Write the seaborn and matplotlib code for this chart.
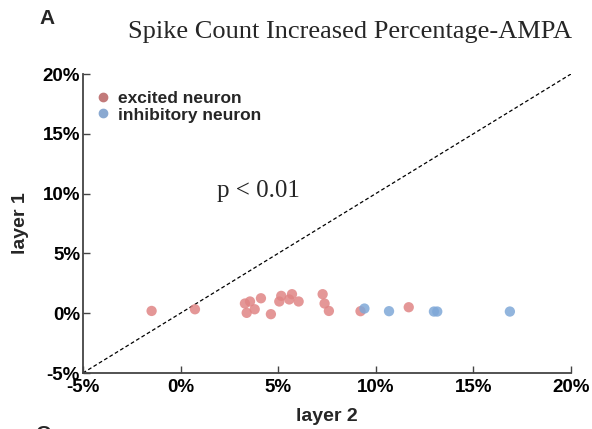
import numpy as np
import pandas as pd
import matplotlib
matplotlib.use("Agg")
import matplotlib.pyplot as plt
import seaborn as sns
from matplotlib.lines import Line2D

# data (percent)
excited_l2 = [-1.48, 0.74, 3.30, 3.56, 3.39, 3.80, 4.12, 4.63, 5.06, 5.16, 5.57, 5.71, 6.05, 7.28, 7.38, 7.60, 9.22, 11.69]
excited_l1 = [0.19, 0.33, 0.81, 0.98, 0.03, 0.33, 1.25, -0.08, 0.98, 1.45, 1.15, 1.59, 0.98, 1.59, 0.81, 0.19, 0.17, 0.50]
inhib_l2 = [9.42, 10.68, 12.98, 13.15, 16.87]
inhib_l1 = [0.39, 0.17, 0.14, 0.14, 0.14]
ticks = [-5, 0, 5, 10, 15, 20]
tick_labels = ["-5%", "0%", "5%", "10%", "15%", "20%"]
groups = ["excited neuron", "inhibitory neuron"]

df = pd.DataFrame({
    "layer 2": excited_l2 + inhib_l2,
    "layer 1": excited_l1 + inhib_l1,
    "type": [groups[0]] * len(excited_l2) + [groups[1]] * len(inhib_l2),
})

sns.set_theme(style="white")
plt.rcParams["font.family"] = ["Liberation Sans", "DejaVu Sans"]

fig = plt.figure(figsize=(5.92, 4.29), dpi=100)
ax = fig.add_axes([0.140, 0.1305, 0.8245, 0.697])

palette = {groups[0]: "#e08585", groups[1]: "#7fa8d8"}
sns.scatterplot(data=df, x="layer 2", y="layer 1", hue="type", palette=palette,
                s=55, alpha=0.85, edgecolor="none", ax=ax, legend=False, zorder=3)

ax.plot(ticks, ticks, linestyle=(0, (3, 2)), color="black", lw=0.9, zorder=2)

ax.set_xlim(-5, 20)
ax.set_ylim(-5, 20)
ax.set_xticks(ticks)
ax.set_yticks(ticks)
ax.set_xticklabels(tick_labels, fontsize=13.5, fontweight="bold")
ax.set_yticklabels(tick_labels, fontsize=13.5, fontweight="bold")
ax.tick_params(axis="x", direction="in", length=5, width=1, pad=4,
               bottom=True, labelcolor="black", color="#444444")
ax.tick_params(axis="y", direction="in", length=5, width=1, pad=2,
               left=True, labelcolor="black", color="#444444")
for side in ["top", "right"]:
    ax.spines[side].set_visible(False)
for side in ["left", "bottom"]:
    ax.spines[side].set_color("#444444")
    ax.spines[side].set_linewidth(1.3)

ax.set_xlabel("layer 2", fontsize=14, fontweight="bold", labelpad=9)
ax.set_ylabel("layer 1", fontsize=14, fontweight="bold", labelpad=10)

# legend
handles = [Line2D([], [], marker="o", ls="", color="#c27a7a", markersize=6),
           Line2D([], [], marker="o", ls="", color="#8aa9d1", markersize=6)]
leg = ax.legend(handles, groups, loc="upper left", frameon=False,
                prop={"weight": "bold", "size": 12.5}, handletextpad=0.1,
                handlelength=1.5, labelspacing=0.1, borderaxespad=0.0,
                bbox_to_anchor=(0.0, 0.968))

ax.text(3.97, 10.2, "p < 0.01", fontsize=18, family="Liberation Serif",
        ha="center", va="center")

fig.text(350 / 592, 1 - 32 / 429, "Spike Count Increased Percentage-AMPA",
         fontsize=19, family="Liberation Serif", ha="center", va="center")
fig.text(47 / 592, 1 - 18 / 429, "A", fontsize=15, fontweight="bold",
         ha="center", va="center")
fig.text(43 / 592, 1 - 434 / 429, "C", fontsize=15, fontweight="bold",
         ha="center", va="center")

fig.savefig("out.png", dpi=100)
